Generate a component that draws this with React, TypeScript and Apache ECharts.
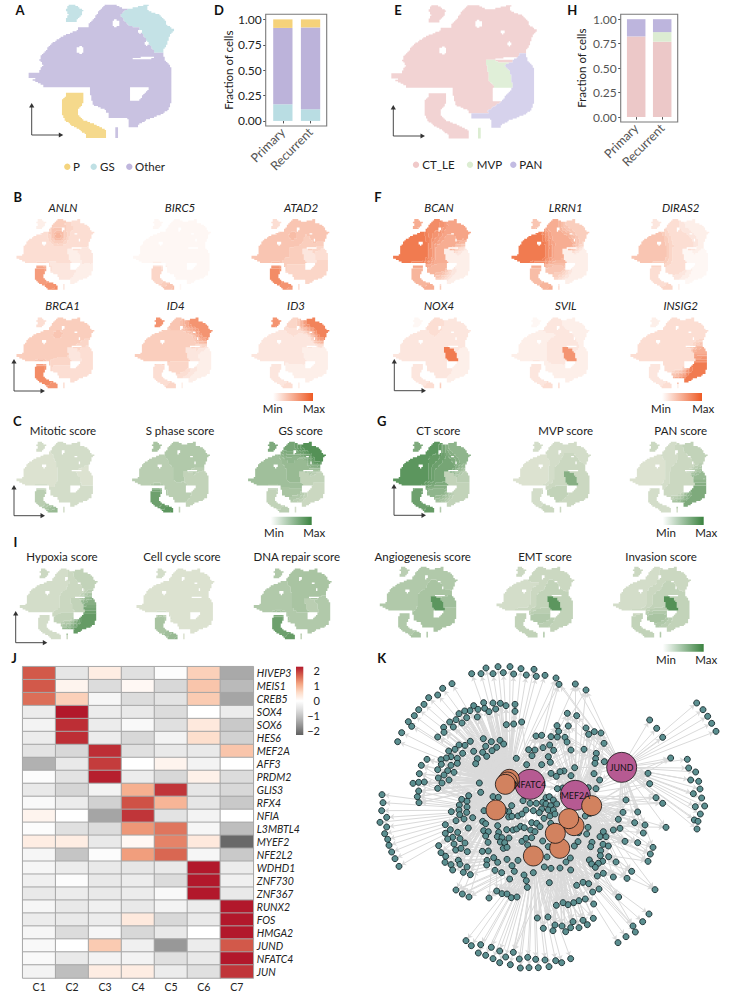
import React, { useEffect, useRef } from "react";
import * as echarts from "echarts";

const FONT = "Lato, 'Open Sans', sans-serif";

// ---------- stacked bars ----------
const barCats = ["Primary", "Recurrent"];
const dOther = [0.752, 0.806];
const dGS = [0.164, 0.115];
const dP = [0.084, 0.079];
const hCT = [0.824, 0.77];
const hMVP = [0, 0.098];
const hPAN = [0.176, 0.132];
const fractionTicks = [0, 0.25, 0.5, 0.75, 1];

// ---------- heatmap ----------
const heatCols = ["C1", "C2", "C3", "C4", "C5", "C6", "C7"];
const heatGenes = ["HIVEP3", "MEIS1", "CREB5", "SOX4", "SOX6", "HES6", "MEF2A", "AFF3", "PRDM2", "GLIS3", "RFX4", "NFIA", "L3MBTL4", "MYEF2", "NFE2L2", "WDHD1", "ZNF730", "ZNF367", "RUNX2", "FOS", "HMGA2", "JUND", "NFATC4", "JUN"];
const heatValues = [
  [1.55, -0.4, 0.25, -0.5, -0.05, 0.6, -1.2],
  [1.55, 0.15, -0.55, 0.1, -0.6, 0.7, -1.0],
  [1.4, 0.6, -0.15, -0.55, -0.45, 0.65, -1.25],
  [-0.3, 2.0, -0.3, -0.35, -0.55, 0, -0.3],
  [-0.2, 1.85, -0.3, -0.1, -0.5, 0.3, -0.8],
  [-0.3, 1.85, -0.3, -0.6, -0.2, 0.45, -0.7],
  [-0.45, -0.6, 1.85, -0.5, -0.35, -0.35, 0.7],
  [-1.1, -0.35, 1.75, 0, 0.15, -0.2, 0],
  [-0.05, -0.45, 1.95, -0.3, -0.6, 0.2, -0.55],
  [-0.35, -0.65, -0.2, 0.9, 1.8, -0.4, -0.6],
  [-0.1, -0.3, -0.7, 1.6, 0.85, -0.4, -0.8],
  [0.15, 0, -1.25, 1.8, -0.45, -0.2, 0],
  [-0.05, -0.5, -0.55, 1.1, 1.35, -0.15, -0.95],
  [0.25, 0.25, -0.35, 0.1, 1.25, 0.3, -1.9],
  [-0.15, -0.85, -0.05, 1.05, 1.45, -0.15, -0.8],
  [-0.15, -0.3, -0.35, -0.4, -0.35, 2, -0.3],
  [-0.25, -0.05, -0.35, -0.3, -0.55, 2, -0.25],
  [-0.35, -0.3, -0.35, -0.3, -0.1, 2, -0.35],
  [-0.15, -0.35, -0.25, -0.35, -0.2, -0.3, 2],
  [-0.3, -0.35, -0.3, 0.3, -0.6, -0.35, 2],
  [-0.15, -0.55, -0.15, -0.6, -0.35, 0, 2],
  [-0.1, 0, 0.65, -0.25, -1.4, -0.3, 1.55],
  [-0.1, -0.35, -0.2, -0.2, -0.5, -0.35, 2],
  [-0.2, -0.95, 0.25, 0.25, -0.3, -0.5, 1.8],
];
const heatRamp = ["#606060", "#8f8f8f", "#bababa", "#e0e0e0", "#ffffff", "#fddbc7", "#f4a582", "#d6604d", "#b2182b"];
const heatTicks = ["2", "1", "0", "\u22121", "\u22122"];

// ---------- embedding outline, row by row: [row, from, to, region] ----------
const umapSpans: [number, number, number, string][] = [
  [15, 205, 225, "I"], [15, 315, 350, "T"], [15, 435, 445, "G"],
  [30, 197, 250, "I"], [30, 300, 375, "T"], [30, 375, 440, "G"],
  [45, 205, 245, "I"], [45, 290, 360, "T"], [45, 360, 480, "G"],
  [60, 198, 230, "I"], [60, 280, 372, "T"], [60, 372, 495, "G"],
  [75, 265, 385, "T"], [75, 385, 500, "G"],
  [90, 235, 285, "L"], [90, 285, 360, "a"], [90, 360, 420, "C"], [90, 420, 525, "G"],
  [105, 195, 285, "L"], [105, 285, 360, "a"], [105, 360, 430, "C"], [105, 430, 510, "G"],
  [120, 170, 285, "L"], [120, 285, 360, "a"], [120, 360, 440, "C"], [120, 440, 505, "G"],
  [135, 150, 285, "L"], [135, 285, 350, "a"], [135, 350, 450, "C"], [135, 450, 500, "G"],
  [150, 140, 300, "L"], [150, 300, 460, "C"], [150, 460, 490, "G"],
  [165, 125, 300, "L"], [165, 300, 470, "C"], [165, 470, 490, "R"],
  [180, 120, 300, "L"], [180, 300, 370, "C"], [180, 370, 400, "M"], [180, 400, 450, "C"], [180, 450, 495, "R"],
  [195, 130, 300, "L"], [195, 300, 372, "C"], [195, 372, 425, "M"], [195, 425, 510, "R"],
  [210, 120, 300, "L"], [210, 300, 375, "C"], [210, 375, 440, "M"], [210, 440, 515, "R"],
  [225, 85, 100, "L"], [225, 120, 300, "L"], [225, 300, 380, "C"], [225, 380, 445, "M"], [225, 445, 515, "R"],
  [240, 100, 300, "L"], [240, 300, 380, "C"], [240, 380, 445, "M"], [240, 445, 515, "R"],
  [255, 130, 300, "L"], [255, 300, 395, "C"], [255, 395, 440, "M"], [255, 450, 515, "P"],
  [270, 270, 390, "b"], [270, 445, 515, "P"],
  [285, 200, 250, "S"], [285, 272, 390, "b"], [285, 430, 515, "P"],
  [300, 188, 252, "S"], [300, 275, 390, "b"], [300, 420, 515, "P"],
  [315, 185, 245, "S"], [315, 280, 375, "b"], [315, 400, 510, "P"],
  [330, 185, 232, "S"], [330, 320, 360, "b"], [330, 375, 505, "P"],
  [345, 188, 235, "S"], [345, 325, 370, "P"], [345, 380, 480, "P"],
  [360, 195, 250, "S"], [360, 385, 440, "P"],
  [375, 212, 290, "S"], [375, 385, 415, "P"],
  [390, 240, 320, "s"], [390, 345, 355, "X"],
  [405, 260, 320, "s"], [405, 345, 355, "X"],
];
// small holes: [x, y, radius]
const umapHoles = [[347, 70, 11], [241, 150, 11], [440, 130, 7], [420, 95, 6]];
const regions = ["I", "G", "T", "a", "L", "C", "b", "M", "R", "P", "S", "s", "X"];

// estimated mean signal per region, in the order of `regions`
const geneNames = ["ANLN", "BIRC5", "ATAD2", "BRCA1", "ID4", "ID3", "BCAN", "LRRN1", "DIRAS2", "NOX4", "SVIL", "INSIG2"];
const geneANLN = [.08, .22, .3, .5, .18, .2, .15, .12, .15, .12, .6, .7, .15];
const geneBIRC5 = [.04, .06, .05, .06, .05, .06, .05, .04, .04, .04, .25, .4, .05];
const geneATAD2 = [.2, .35, .35, .4, .33, .32, .25, .15, .2, .25, .7, .6, .2];
const geneBRCA1 = [.2, .28, .3, .35, .3, .28, .22, .15, .2, .22, .7, .65, .2];
const geneID4 = [.65, .65, .35, .3, .3, .3, .25, .15, .12, .12, .2, .25, .12];
const geneID3 = [.65, .75, .25, .18, .13, .15, .12, .1, .08, .08, .15, .2, .1];
const geneBCAN = [.5, .55, .7, .65, .8, .5, .45, .12, .12, .12, .45, .5, .3];
const geneLRRN1 = [.35, .3, .5, .5, .8, .5, .35, .08, .1, .1, .4, .5, .2];
const geneDIRAS2 = [.15, .1, .2, .2, .35, .2, .2, .03, .06, .06, .2, .25, .1];
const geneNOX4 = [.05, .15, .2, .18, .15, .15, .15, .8, .12, .12, .15, .2, .3];
const geneSVIL = [.05, .1, .15, .12, .12, .15, .12, .65, .12, .12, .15, .2, .2];
const geneINSIG2 = [.1, .2, .2, .2, .2, .2, .2, .2, .5, .8, .15, .2, .1];

const scoreNames = ["Mitotic score", "S phase score", "GS score", "CT score", "MVP score", "PAN score", "Hypoxia score", "Cell cycle score", "DNA repair score", "Angiogenesis score", "EMT score", "Invasion score"];
const scoreMitotic = [.08, .08, .08, .08, .06, .08, .08, .08, .06, .08, .25, .5, .08];
const scoreSPhase = [.35, .32, .32, .3, .25, .28, .25, .2, .2, .22, .7, .85, .2];
const scoreGS = [.6, .85, .65, .5, .4, .45, .35, .2, .2, .15, .2, .25, .1];
const scoreCT = [.6, .5, .8, .75, .8, .65, .5, .2, .25, .2, .7, .75, .3];
const scoreMVP = [.12, .12, .1, .1, .05, .15, .2, .55, .15, .15, .12, .15, .15];
const scorePAN = [.15, .2, .12, .1, .06, .15, .15, .15, .45, .6, .08, .08, .1];
const scoreHypoxia = [.15, .2, .1, .1, .08, .15, .2, .2, .55, .75, .08, .1, .15];
const scoreCellCycle = [.08, .06, .06, .06, .04, .05, .05, .04, .04, .04, .35, .5, .04];
const scoreDNA = [.3, .35, .35, .35, .3, .35, .3, .25, .3, .3, .7, .75, .2];
const scoreAngio = [.25, .3, .3, .3, .3, .35, .35, .8, .4, .35, .3, .35, .3];
const scoreEMT = [.15, .15, .15, .12, .12, .2, .3, .8, .2, .2, .2, .2, .3];
const scoreInvasion = [.15, .15, .12, .12, .12, .2, .35, .85, .2, .2, .18, .2, .3];

const regionColorsA = ["#c4e2e6", "#c4e2e6", "#c9c2e1", "#c9c2e1", "#c9c2e1", "#c9c2e1", "#c9c2e1", "#c9c2e1", "#c9c2e1", "#c9c2e1", "#f5d98c", "#f5d98c", "#c9c2e1"];
const regionColorsE = ["#f2d3d3", "#f2d3d3", "#f2d3d3", "#f2d3d3", "#f2d3d3", "#f2d3d3", "#f2d3d3", "#e0efd8", "#d6d2ec", "#d6d2ec", "#f2d3d3", "#f2d3d3", "#dcedd2"];

// ---------- network (positions) ----------
const hubNames = ["JUND", "NFATC4", "MEF2A", "", "", "", "", "", "", "", "", "", ""];
const hubPoints = [[845, 322], [570, 373], [706, 406], [508, 358], [502, 366], [496, 373], [468, 450], [755, 437], [702, 497], [686, 476], [659, 565], [646, 520], [580, 588]];
const leafPoints = [
  [395,41],[423,41],[438,24],[459,41],[474,20],[490,38],[510,20],[521,42],[543,26],[559,45],[582,28],[589,49],[615,46],[648,54],[657,73],[706,72],[738,90],
  [336,71],[308,85],[293,105],[266,113],[252,133],[236,149],[223,167],[205,185],[215,199],[185,218],[173,245],
  [431,128],[459,129],[481,130],[498,137],[525,133],[525,154],[401,137],[414,148],[390,152],[374,153],[434,145],[447,155],[467,147],[357,161],[380,173],[412,171],[366,189],[348,179],[329,186],[340,201],[311,202],[312,217],[293,231],[499,194],[521,192],[545,186],
  [430,236],[454,245],[480,241],[491,252],[470,262],[456,272],[437,259],[428,277],[440,289],[401,274],[391,244],[375,256],[357,255],[345,268],[326,273],[333,290],[319,294],[303,299],[368,280],[352,295],[261,298],[244,316],[304,313],[333,316],[352,310],[323,332],[293,329],[342,337],[238,341],[312,345],[327,360],[295,354],[306,369],[219,370],[236,367],[253,366],[293,385],[412,296],[407,311],[529,295],
  [126,404],[129,428],[125,452],[140,472],[120,487],[140,501],[134,521],[143,538],[147,556],[155,576],[165,596],[177,619],
  [232,410],[236,393],[237,428],[418,369],[422,397],
  [365,418],[386,407],[358,435],[381,424],[381,441],[357,450],[334,455],[359,464],[380,457],[398,473],[372,477],[348,482],[316,494],[385,504],[331,509],[316,520],[338,532],[323,537],[353,517],[360,536],[342,552],[375,549],[296,557],[303,578],[317,589],[347,570],[382,575],[363,565],[315,607],[355,601],[333,614],[360,613],[338,630],[370,637],[391,644],[381,621],
  [459,410],[475,412],[515,437],[506,455],[494,451],[432,452],[428,484],[437,491],[431,512],[445,515],[437,528],[444,547],[473,497],[476,517],[472,530],[486,533],[481,546],[494,548],[507,534],[500,509],[519,510],[530,507],[542,499],[553,503],[506,471],[516,469],[534,468],[546,462],[549,422],[570,430],[589,430],[608,427],[618,413],[628,410],[640,420],[650,432],[618,432],[632,437],[605,447],[625,450],[640,450],[598,458],[580,452],[558,450],[612,475],[630,468],[645,462],[575,488],[590,490],[572,510],[585,515],[600,500],[632,490],[655,505],
  [546,544],[558,535],[575,533],[563,555],[608,543],[625,560],[490,565],[501,562],[427,574],[445,573],[461,593],[501,598],[473,607],[441,601],[440,615],[534,601],[516,617],[523,634],[465,631],[485,638],[509,657],[552,645],[580,638],[613,621],[633,625],[660,624],[692,630],[678,606],[691,594],[621,591],[559,662],[562,682],[628,668],
  [470,693],[486,701],[501,702],[514,713],[531,711],[447,714],[348,690],[367,702],[387,711],
  [588,228],[605,226],[633,230],[652,231],[656,214],[651,197],[685,198],[682,160],[710,167],[675,232],[681,246],[629,255],[609,263],[585,270],[566,269],[576,287],[625,290],[641,271],[631,307],[605,314],[560,314],[693,270],[732,268],[738,204],[746,223],[763,215],[783,219],[792,250],[769,280],[767,296],[765,310],[793,305],[704,323],[672,333],[660,335],[649,349],[633,340],[587,345],[693,347],[762,341],[779,360],[768,386],[745,383],[668,384],[652,386],
  [708,439],[736,468],[750,460],[744,502],[740,522],[716,518],[714,545],[703,558],[756,547],[752,560],[790,515],[780,530],[798,530],[789,553],[805,558],[782,572],[806,590],[781,587],[788,604],[775,610],[748,600],[755,612],[766,622],[828,606],[790,640],[772,648],[820,651],[861,655],[875,634],[945,689],
  [820,510],[840,505],[835,478],[849,457],[893,456],[884,488],[858,420],[915,495],[910,519],[855,544],[893,548],[978,502],[968,430],[948,413],[924,340],[929,371],[992,294],[929,180],[950,205],[968,232],
  [1070,129],[1089,149],[1103,169],[1115,190],[1128,214],
  [1042,298],[1046,324],[1067,336],[1052,360],[1076,364],[1080,387],[1060,401],[1085,414],[1094,438],[1066,440],[1081,462],[1063,480],[1074,484],[1071,507],
  [939,562],[931,582],[924,604],
  [710,676],[729,667],[746,671],[777,687],[758,696],[836,711],[761,732],[736,717],[717,722],[701,728],[684,734],[669,728],[649,736],[592,774],[624,771],[610,805],[639,812],[645,795],[666,798],[677,815],[692,803],[699,785],[717,803],[729,781],[742,794],[760,775],[927,762],[908,785],[879,798],[886,816],[858,830],[834,848],
  [378,842],[394,857],[422,854],[415,879],[437,886],[454,862],[459,896],[479,873],[479,908],[497,891],[511,914],[520,877],[538,897],[541,924],[563,892],[567,923],[587,898],[595,923],[615,900],[627,920],[647,902],[665,908],[692,896],
];

// ---------- layout ----------
const SMALL_W = 100.7, SMALL_H = 74.2;
const ORANGE = ["#ffffff", "#ee5a24"];
const GREEN = ["#e4e7d8", "#3a823f"];
const smallPanels: { left: number; top: number; vals: number[]; ramp: string[] }[] = [];

function hex(c: string) { return [1, 3, 5].map((i) => parseInt(c.slice(i, i + 2), 16)); }
function mix(r: string[], t: number) {
  const a = hex(r[0]), b = hex(r[1]);
  return "rgb(" + a.map((v, i) => Math.round(v + (b[i] - v) * t)).join(",") + ")";
}

// lattice of the embedding's outline; edges run straight from one read row to the next
function lattice(step: number) {
  const rows = Array.from(new Set(umapSpans.map((s) => s[0])));
  const byRow: Record<number, [number, number, number, string][]> = {};
  umapSpans.forEach((s) => (byRow[s[0]] = byRow[s[0]] || []).push(s));
  const sameGroup = (a: string, b: string) => a === b || (a + b === "Ss") || (a + b === "sS");
  const partner = (s: any, list: any[]) => {
    let best: any = null, bestO = 0;
    (list || []).forEach((o) => {
      if (!sameGroup(o[3], s[3])) return;
      const ov = Math.min(o[2], s[2]) - Math.max(o[1], s[1]);
      if (ov > bestO) { bestO = ov; best = o; }
    });
    return best;
  };
  const inHole = (x: number, y: number) => umapHoles.some(([hx, hy, r]) => (x - hx) * (x - hx) + (y - hy) * (y - hy) < r * r);
  const pts: { x: number; y: number; r: number }[] = [];
  rows.forEach((R, ri) => {
    const cur = byRow[R], nxt = byRow[rows[ri + 1]] || [];
    for (let y = Math.ceil(R / step) * step; y < R + 15; y += step) {
      const t = (y - R) / 15;
      const ivs: [number, number, string][] = [];
      cur.forEach((s) => {
        const p = partner(s, nxt);
        if (p) ivs.push([s[1] + (p[1] - s[1]) * t, s[2] + (p[2] - s[2]) * t, s[3]]);
        else if (t < 0.5) ivs.push([s[1], s[2], s[3]]);
      });
      if (t >= 0.5) nxt.forEach((s) => { if (!partner(s, cur)) ivs.push([s[1], s[2], s[3]]); });
      ivs.sort((a, b) => a[0] - b[0]);
      // neighbouring regions meet without a seam (the hook stays apart), and the first one reached keeps the cell
      let lastX = -Infinity;
      ivs.forEach((iv, k) => {
        const next = ivs[k + 1];
        const apart = iv[2] === "S" || iv[2] === "s";
        const end = next && !apart && next[0] - iv[1] < 30 ? Math.max(iv[1], next[0]) : iv[1];
        for (let x = Math.ceil(iv[0] / step) * step; x < end; x += step) {
          if (x <= lastX) continue;
          lastX = x;
          if (!inHole(x, y)) pts.push({ x, y, r: regions.indexOf(iv[2]) });
        }
      });
    }
  });
  return pts;
}

function addSmall(left: number, top: number, vals: number[], ramp: string[]) { smallPanels.push({ left, top, vals, ramp }); }
addSmall(1.7, 216.9, geneANLN, ORANGE); addSmall(118.3, 216.9, geneBIRC5, ORANGE); addSmall(236.7, 216.9, geneATAD2, ORANGE);
addSmall(1.7, 315.3, geneBRCA1, ORANGE); addSmall(120, 315.3, geneID4, ORANGE); addSmall(236.7, 315.3, geneID3, ORANGE);
addSmall(378.3, 216.9, geneBCAN, ORANGE); addSmall(496.7, 216.9, geneLRRN1, ORANGE); addSmall(616.7, 216.9, geneDIRAS2, ORANGE);
addSmall(378.3, 315.3, geneNOX4, ORANGE); addSmall(496.7, 315.3, geneSVIL, ORANGE); addSmall(615.7, 315.3, geneINSIG2, ORANGE);
addSmall(1.7, 439.6, scoreMitotic, GREEN); addSmall(117.3, 439.6, scoreSPhase, GREEN); addSmall(233.3, 439.6, scoreGS, GREEN);
addSmall(378.3, 439.6, scoreCT, GREEN); addSmall(498.3, 439.6, scoreMVP, GREEN); addSmall(615, 439.6, scorePAN, GREEN);
addSmall(5, 566.3, scoreHypoxia, GREEN); addSmall(121.7, 566.3, scoreCellCycle, GREEN); addSmall(239, 566.3, scoreDNA, GREEN);
addSmall(365, 564.6, scoreAngio, GREEN); addSmall(481.7, 564.6, scoreEMT, GREEN); addSmall(598.3, 564.6, scoreInvasion, GREEN);

function label(text: string, x: number, y: number, size: number, extra: any = {}) {
  return {
    type: "text", x, y, z: 50, silent: true,
    style: { text, fontSize: size, fontFamily: FONT, fill: extra.fill || "#222", fontStyle: extra.italic ? "italic" : "normal", fontWeight: extra.bold ? 700 : 400, align: extra.align || "center", verticalAlign: "middle" },
  };
}
function axesArrows(x: number, y: number, up: number, right: number) {
  const c = "#333";
  return [
    { type: "line", z: 50, silent: true, shape: { x1: x, y1: y, x2: x, y2: up + 3 }, style: { stroke: c, lineWidth: 0.9 } },
    { type: "line", z: 50, silent: true, shape: { x1: x, y1: y, x2: right - 3, y2: y }, style: { stroke: c, lineWidth: 0.9 } },
    { type: "polygon", z: 50, silent: true, shape: { points: [[x - 2.6, up + 4.5], [x + 2.6, up + 4.5], [x, up]] }, style: { fill: c } },
    { type: "polygon", z: 50, silent: true, shape: { points: [[right - 4.5, y - 2.6], [right - 4.5, y + 2.6], [right, y]] }, style: { fill: c } },
  ];
}
function gradBar(x: number, y: number, w: number, h: number, from: string, to: string, minX: number, maxX: number, ly: number) {
  return [
    { type: "rect", z: 50, silent: true, shape: { x, y, width: w, height: h }, style: { fill: { type: "linear", x: 0, y: 0, x2: 1, y2: 0, colorStops: [{ offset: 0, color: from }, { offset: 1, color: to }] } } },
    label("Min", minX, ly, 11.5), label("Max", maxX, ly, 11.5),
  ];
}

function buildOption() {
  const grid: any[] = [], xAxis: any[] = [], yAxis: any[] = [], series: any[] = [];

  const addUmapGrid = (left: number, top: number, w: number, h: number) => {
    const i = grid.length;
    grid.push({ left, top, width: w, height: h, show: false });
    xAxis.push({ type: "value", gridIndex: i, min: 0, max: 570, show: false });
    yAxis.push({ type: "value", gridIndex: i, min: 0, max: 420, inverse: true, show: false });
    return i;
  };
  const scatter = (i: number, data: number[][], size: number, color: string) => {
    if (!data.length) return;
    series.push({ type: "scatter", xAxisIndex: i, yAxisIndex: i, data, symbol: "rect", symbolSize: size, large: true, largeThreshold: 1, progressive: 0, silent: true, itemStyle: { color, opacity: 1 } });
  };

  // categorical embeddings: one series per colour
  const fine = lattice(4);
  ([[0, 0, regionColorsA], [362.7, 0.5, regionColorsE]] as [number, number, string[]][]).forEach(([l, t, colors]) => {
    const i = addUmapGrid(l, t, 190, 140);
    Array.from(new Set(colors)).forEach((c) => scatter(i, fine.filter((p) => colors[p.r] === c).map((p) => [p.x, p.y]), 1.4, c));
  });

  // signal embeddings: region estimates softened over neighbouring lattice cells (the MVP blob keeps its edge)
  const STEP = 8, RADIUS = 4, MVP = regions.indexOf("M");
  const coarse = lattice(STEP);
  const index = new Map<string, number>();
  coarse.forEach((p, i) => index.set(p.x + "," + p.y, i));
  const nbrs = coarse.map((p) => {
    const out: number[] = [];
    const rad = p.r === MVP ? 1 : RADIUS;
    for (let dx = -rad; dx <= rad; dx++) for (let dy = -rad; dy <= rad; dy++) {
      if (dx * dx + dy * dy > rad * rad + 1) continue;
      const j = index.get(p.x + dx * STEP + "," + (p.y + dy * STEP));
      if (j !== undefined && (coarse[j].r === MVP) === (p.r === MVP)) out.push(j);
    }
    return out;
  });
  const LEVELS = 20;
  smallPanels.forEach((pan) => {
    const i = addUmapGrid(pan.left, pan.top, SMALL_W, SMALL_H);
    const buckets: number[][][] = Array.from({ length: LEVELS + 1 }, () => []);
    coarse.forEach((p, n) => {
      let sum = 0;
      nbrs[n].forEach((j) => (sum += pan.vals[coarse[j].r]));
      buckets[Math.round((sum / nbrs[n].length) * LEVELS)].push([p.x, p.y]);
    });
    buckets.forEach((b, lv) => scatter(i, b, 1.5, mix(pan.ramp, lv / LEVELS)));
  });

  // stacked bars
  const barPanel = (left: number, top: number, w: number, h: number, barW: number, txt: string, nameGap: number, offset: number, parts: [number[], string][]) => {
    const i = grid.length;
    grid.push({ left, top, width: w, height: h, show: false });
    xAxis.push({
      type: "category", gridIndex: i, data: barCats, splitLine: { show: false }, axisLine: { show: false }, offset: 0,
      axisTick: { show: true, alignWithLabel: true, length: 2.5, lineStyle: { color: "#555" } },
      axisLabel: { rotate: 45, margin: 4, interval: 0, fontFamily: FONT, fontSize: 12.5, color: "#555" },
    });
    yAxis.push({
      type: "value", gridIndex: i, min: -0.05, max: 1.05, splitLine: { show: false }, axisLine: { show: false }, offset,
      axisTick: { show: true, customValues: fractionTicks, length: 2.5, lineStyle: { color: "#555" } },
      axisLabel: { customValues: fractionTicks, margin: 4, fontFamily: FONT, fontSize: 12, color: txt, formatter: (v: number) => v.toFixed(2) },
      name: "Fraction of cells", nameLocation: "middle", nameRotate: 90, nameGap, nameTextStyle: { fontFamily: FONT, fontSize: 11.5, color: "#222" },
    });
    parts.forEach(([vals, color], k) => {
      series.push({ type: "bar", xAxisIndex: i, yAxisIndex: i, stack: "s" + i, barWidth: barW, silent: true, itemStyle: { color }, data: vals, z: 3 + k });
    });
  };
  barPanel(269, 14.3, 55.4, 111.7, 19.3, "#222", 29, 3.3, [[dGS, "#b9dde3"], [dOther, "#bcb3da"], [dP, "#f5d27a"]]);
  barPanel(623.2, 14.3, 52, 107.7, 18.5, "#555", 33, 2.5, [[hCT, "#ecc8c8"], [hMVP, "#dcecd2"], [hPAN, "#bdb5dd"]]);

  // heatmap
  const hi = grid.length;
  grid.push({ left: 22.7, top: 666.7, width: 230.6, height: 314, show: false });
  xAxis.push({ type: "category", gridIndex: hi, data: heatCols, axisLine: { show: false }, axisTick: { show: false }, splitArea: { show: false }, axisLabel: { fontFamily: FONT, fontSize: 10.5, color: "#222", margin: 3 } });
  yAxis.push({ type: "category", gridIndex: hi, data: heatGenes, inverse: true, axisLine: { show: false }, axisTick: { show: false }, position: "right", axisLabel: { fontFamily: FONT, fontSize: 10.5, fontStyle: "italic", color: "#222", margin: 3.5, interval: 0 } });
  const heatData: number[][] = [];
  heatValues.forEach((row, y) => row.forEach((v, x) => heatData.push([x, y, v])));
  const heatIdx = series.length;
  series.push({ type: "heatmap", xAxisIndex: hi, yAxisIndex: hi, data: heatData, silent: true, itemStyle: { borderColor: "#a6a6a6", borderWidth: 1 } });

  // network
  const ni = grid.length;
  grid.push({ left: 340, top: 660, width: 390, height: 332, show: false });
  xAxis.push({ type: "value", gridIndex: ni, min: 0, max: 1170, show: false });
  yAxis.push({ type: "value", gridIndex: ni, min: 0, max: 996, inverse: true, show: false });
  const nodes: any[] = [];
  leafPoints.forEach((p, i) => nodes.push({ name: "n" + i, value: p, symbolSize: 6, itemStyle: { color: "#5b8f90", borderColor: "#16282a", borderWidth: 0.9 }, label: { show: false } }));
  const hubBase = nodes.length;
  hubPoints.forEach((p, i) => {
    const main = i < 3;
    nodes.push({
      name: hubNames[i] || "h" + i, value: p, symbolSize: main ? 30 : 20,
      itemStyle: { color: main ? "#b65a92" : "#d2825f", borderColor: "#111", borderWidth: 0.8 },
      label: { show: main, position: "inside", formatter: hubNames[i], color: "#111", fontFamily: FONT, fontSize: 8.8 },
    });
  });
  const links: any[] = [];
  leafPoints.forEach((p, i) => {
    const order = hubPoints.map((h, k) => [Math.hypot(h[0] - p[0], h[1] - p[1]), k]).sort((a, b) => a[0] - b[0]);
    const far = Math.hypot(p[0] - 620, p[1] - 470);
    const n = far < 270 ? 5 : far < 420 ? 3 : 1;
    for (let k = 0; k < n; k++) links.push({ source: hubBase + order[k][1], target: i });
  });
  series.push({
    type: "graph", coordinateSystem: "cartesian2d", xAxisIndex: ni, yAxisIndex: ni, layout: "none", roam: false, silent: true,
    data: nodes, links, edgeSymbol: ["none", "arrow"], edgeSymbolSize: 4.5,
    lineStyle: { color: "#dadada", width: 1, opacity: 1, curveness: 0 },
  });

  // texts and furniture
  const g: any[] = [];
  ([[265.7, 14.3, 61, 111.7], [620.7, 14.3, 57, 107.7]] as number[][]).forEach(([x, y, width, height]) => g.push({ type: "rect", z: 50, silent: true, shape: { x, y, width, height }, style: { fill: "none", stroke: "#7a7a7a", lineWidth: 1.1 } }));
  ([["A", 20, 10], ["D", 219, 10], ["E", 398, 10], ["H", 572.3, 10], ["B", 17.7, 197], ["F", 378, 197], ["C", 17.3, 421], ["G", 381.7, 421], ["I", 15.3, 542.3], ["J", 14, 657.7], ["K", 381.7, 658.3]] as [string, number, number][]).forEach(([t, x, y]) => g.push(label(t, x, y, 13, { bold: true, fill: "#111" })));
  const geneX = [63, 180, 301, 62.7, 175.7, 296, 439, 565.7, 680.7, 439, 565.7, 680.7];
  const geneY = [207, 207, 207, 305, 305, 305, 207, 207, 207, 305, 305, 305];
  geneNames.forEach((t, i) => g.push(label(t, geneX[i], geneY[i], 11.5, { italic: true })));
  const scoreX = [63, 180, 300.7, 438.3, 565.7, 680.7, 62, 182, 296.7, 422.7, 545, 661];
  const scoreY = [430, 430, 430, 430, 430, 430, 556.7, 556.7, 556.7, 556.7, 556.7, 556.7];
  scoreNames.forEach((t, i) => g.push(label(t, scoreX[i], scoreY[i], 11.5)));

  [[31.7, 135, 103, 63.3], [393.3, 136, 105, 425], [14, 391, 359, 45], [394.3, 390.7, 359, 426], [14, 515.7, 485, 45], [394, 515.3, 484, 426], [15.7, 642.7, 611, 47.3]].forEach(([x, y, u, r]) => g.push(...axesArrows(x, y, u, r)));

  g.push(...gradBar(273, 393, 40, 8, "#ffffff", "#ee5a24", 272.7, 314, 408));
  g.push(...gradBar(662, 393, 40, 8, "#ffffff", "#ee5a24", 661, 703.3, 408));
  g.push(...gradBar(270.7, 516.7, 41, 8.3, "#ffffff", "#3a823f", 274, 314.3, 532.3));
  g.push(...gradBar(662.7, 516.7, 41, 8.3, "#ffffff", "#3a823f", 666, 706.3, 532.3));
  g.push(...gradBar(662.7, 644, 41, 7.7, "#ffffff", "#3a823f", 666, 706.3, 659));

  // categorical legends
  ([[67.3, "#f4d47e", "P", 73], [93.7, "#bfe0e4", "GS", 100], [129.3, "#bfb6dd", "Other", 135], [416, "#f0c9c9", "CT_LE", 422.3], [470, "#dcedd2", "MVP", 476.7], [513.3, "#c2bbe2", "PAN", 519.3]] as [number, string, string, number][]).forEach(([x, c, t, tx]) => {
    const y = x < 200 ? 166.7 : 164.7;
    g.push({ type: "circle", z: 50, silent: true, shape: { cx: x, cy: y, r: 3.2 }, style: { fill: c } });
    g.push(label(t, tx, y, 11.5, { align: "left" }));
  });

  // heatmap colour key
  g.push({
    type: "rect", z: 50, silent: true, shape: { x: 296, y: 666.7, width: 7.3, height: 68.3 },
    style: { fill: { type: "linear", x: 0, y: 1, x2: 0, y2: 0, colorStops: heatRamp.map((color, i) => ({ offset: i / (heatRamp.length - 1), color })) } },
  });
  heatTicks.forEach((t, i) => g.push(label(t, 320, 670.7 + i * 14.85, 11, { align: "right" })));

  return {
    animation: false,
    backgroundColor: "#fff",
    grid, xAxis, yAxis, series,
    visualMap: { type: "continuous", show: false, min: -2, max: 2, seriesIndex: heatIdx, inRange: { color: heatRamp } },
    graphic: { elements: g },
  };
}

export default function App() {
  const ref = useRef<HTMLDivElement>(null);
  useEffect(() => {
    const chart = echarts.init(ref.current!, undefined, { renderer: "svg" });
    chart.setOption(buildOption() as any);
    return () => chart.dispose();
  }, []);
  return <div ref={ref} style={{ position: "fixed", left: 0, top: 0, width: 730, height: 992 }} />;
}
